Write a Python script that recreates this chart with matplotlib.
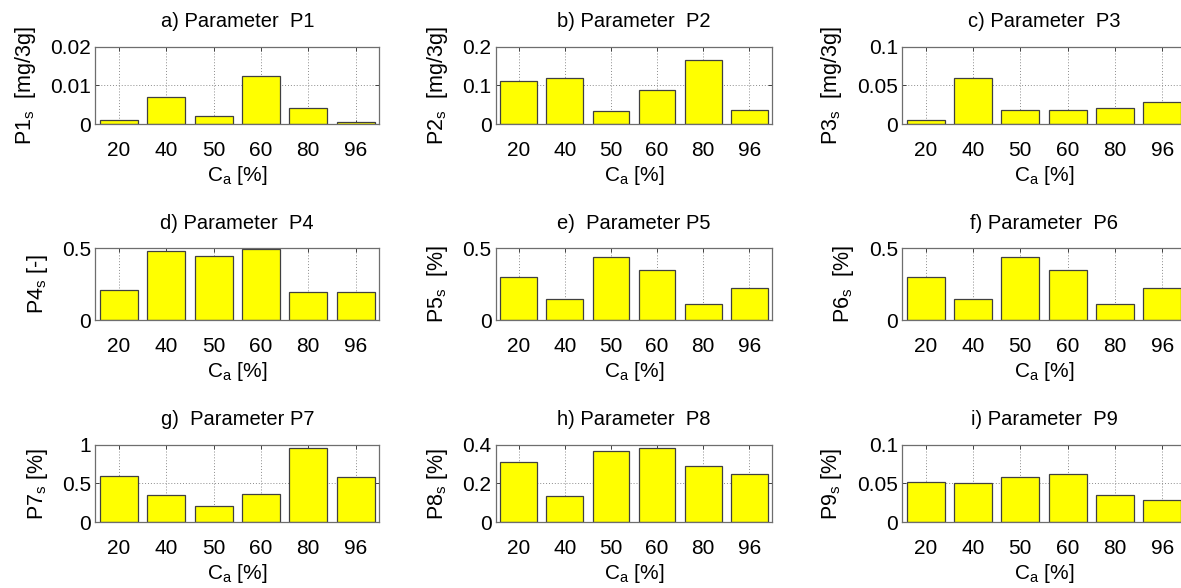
import numpy as np
import matplotlib
matplotlib.use("Agg")
import matplotlib.pyplot as plt

plt.rcParams['font.family'] = ['Liberation Sans', 'DejaVu Sans']
plt.rcParams['mathtext.default'] = 'regular'

# data
concentrations = ['20', '40', '50', '60', '80', '96']

p1 = [0.0010, 0.0071, 0.0021, 0.0124, 0.0041, 0.0005]
p2 = [0.111, 0.120, 0.034, 0.089, 0.165, 0.036]
p3 = [0.005, 0.060, 0.019, 0.018, 0.021, 0.029]
p4 = [0.207, 0.479, 0.449, 0.493, 0.193, 0.193]
p5 = [0.302, 0.147, 0.437, 0.347, 0.109, 0.221]
p6 = [0.302, 0.149, 0.437, 0.347, 0.112, 0.221]
p7 = [0.597, 0.352, 0.206, 0.360, 0.957, 0.579]
p8 = [0.312, 0.137, 0.367, 0.381, 0.288, 0.247]
p9 = [0.0524, 0.0502, 0.0580, 0.0618, 0.0352, 0.0283]

titles = ['a) Parameter  P1', 'b) Parameter  P2', 'c) Parameter  P3',
          'd) Parameter  P4', 'e)  Parameter P5', 'f) Parameter  P6',
          'g)  Parameter P7', 'h) Parameter  P8', 'i) Parameter  P9']
ylabels = ['P1$_s$  [mg/3g]', 'P2$_s$  [mg/3g]', 'P3$_s$  [mg/3g]',
           'P4$_s$ [-]', 'P5$_s$  [%]', 'P6$_s$  [%]',
           'P7$_s$ [%]', 'P8$_s$ [%]', 'P9$_s$ [%]']
yticks = [[0, 0.01, 0.02], [0, 0.1, 0.2], [0, 0.05, 0.1],
          [0, 0.5], [0, 0.5], [0, 0.5],
          [0, 0.5, 1], [0, 0.2, 0.4], [0, 0.05, 0.1]]
yticklabels = [['0', '0.01', '0.02'], ['0', '0.1', '0.2'], ['0', '0.05', '0.1'],
               ['0', '0.5'], ['0', '0.5'], ['0', '0.5'],
               ['0', '0.5', '1'], ['0', '0.2', '0.4'], ['0', '0.05', '0.1']]
values = [p1, p2, p3, p4, p5, p6, p7, p8, p9]

W, H = 1181, 588
fig = plt.figure(figsize=(W / 100, H / 100), dpi=100)

# axes boxes in pixels
col_left = [95.3, 495.7, 902.0]
col_width = [284.0, 276.6, 284.0]
row_top = [46.7, 248.3, 444.7]
row_height = [77.6, 71.7, 77.6]

x = np.arange(1, 7)
for k in range(9):
    r, c = divmod(k, 3)
    rect = [col_left[c] / W, 1 - (row_top[r] + row_height[r]) / H,
            col_width[c] / W, row_height[r] / H]
    ax = fig.add_axes(rect)
    ax.bar(x, values[k], width=0.8, color='#ffff00', edgecolor='#404040',
           linewidth=0.9, zorder=2)
    ax.set_xlim(0.5, 6.5)
    ax.set_ylim(yticks[k][0], yticks[k][-1])
    ax.set_xticks(x)
    ax.set_xticklabels(concentrations)
    ax.set_yticks(yticks[k])
    ax.set_yticklabels(yticklabels[k])
    ax.set_axisbelow(True)
    ax.grid(True, linestyle=(0, (1, 2)), color='#8c8c8c', linewidth=0.7)
    ax.tick_params(axis='both', direction='in', length=3, width=0.7,
                   color='#404040', labelsize=15, top=True, right=True)
    ax.tick_params(axis='x', pad=12)
    ax.tick_params(axis='y', pad=3)
    for s in ax.spines.values():
        s.set_color('#6e6e6e')
        s.set_linewidth(0.9)
    ax.set_title(titles[k], fontsize=14.5, pad=14)
    ax.set_xlabel('C$_a$ [%]', fontsize=15, labelpad=3)
    ax.set_ylabel(ylabels[k], fontsize=15.5, labelpad=9)

fig.savefig('out.png', dpi=100)
